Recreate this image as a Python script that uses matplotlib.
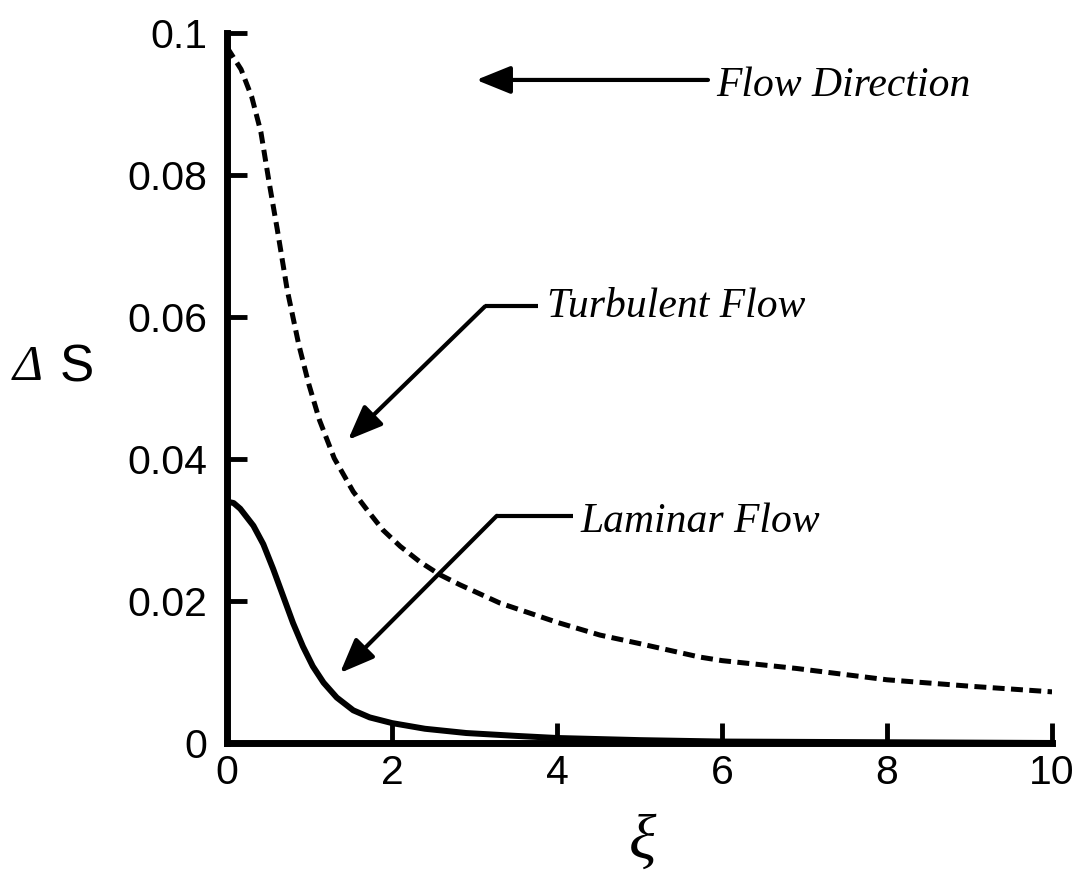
import matplotlib
matplotlib.use("Agg")
import matplotlib.pyplot as plt

# Entropy generation profiles along the duct
xi_turbulent = [0.0, 0.17, 0.30, 0.41, 0.51, 0.61, 0.73, 0.87, 0.99, 1.12, 1.30,
                1.53, 1.70, 1.89, 2.10, 2.34, 2.58, 2.82, 3.31, 4.0, 4.52, 5.0,
                5.73, 6.0, 6.9, 8.0, 9.0, 10.0]
ds_turbulent = [0.0980, 0.0949, 0.0910, 0.0861, 0.0790, 0.0723, 0.0638, 0.0561,
                0.0506, 0.0455, 0.0401, 0.0354, 0.0328, 0.0300, 0.0277, 0.0255,
                0.0237, 0.0223, 0.0197, 0.0170, 0.0152, 0.0140, 0.0121, 0.0116,
                0.0105, 0.0089, 0.0080, 0.0072]

xi_laminar = [0.0, 0.08, 0.16, 0.32, 0.44, 0.56, 0.68, 0.80, 0.92, 1.04, 1.17,
              1.33, 1.53, 1.73, 2.0, 2.4, 2.9, 3.5, 4.0, 5.0, 6.0, 8.0, 10.0]
ds_laminar = [0.0340, 0.0338, 0.0330, 0.0306, 0.0280, 0.0245, 0.0207, 0.0169,
              0.0136, 0.0108, 0.0085, 0.0064, 0.0046, 0.0036, 0.0028, 0.0020,
              0.0014, 0.0010, 0.0007, 0.0004, 0.0002, 0.0001, 0.0]

x_ticks = [0, 2, 4, 6, 8, 10]
x_tick_labels = ["0", "2", "4", "6", "8", "10"]
y_ticks = [0, 0.02, 0.04, 0.06, 0.08, 0.1]
y_tick_labels = ["0", "0.02", "0.04", "0.06", "0.08", "0.1"]

SANS = ["Liberation Sans", "DejaVu Sans"]
SERIF = ["Liberation Serif", "DejaVu Serif"]

fig = plt.figure(figsize=(10.81, 8.71), dpi=100)
ax = fig.add_axes([0.21, 0.147, 0.7632, 0.815])

ax.plot(xi_laminar, ds_laminar, color="black", lw=4.3,
        solid_capstyle="butt", solid_joinstyle="round")
lw_t = 3.6
ax.plot(xi_turbulent, ds_turbulent, color="black", lw=lw_t,
        linestyle=(0, (8.6 / lw_t, 4.6 / lw_t)), dash_capstyle="butt",
        dash_joinstyle="round")

ax.set_xlim(0, 10)
ax.set_ylim(0, 0.1)
for side in ("top", "right"):
    ax.spines[side].set_visible(False)
for side in ("left", "bottom"):
    ax.spines[side].set_linewidth(5)

ax.set_xticks(x_ticks)
ax.set_xticklabels(x_tick_labels, fontfamily=SANS, fontsize=29.5)
ax.set_yticks(y_ticks)
ax.set_yticklabels(y_tick_labels, fontfamily=SANS, fontsize=29.5)
ax.tick_params(axis="both", direction="in", length=14.5, width=3.5)
ax.tick_params(axis="x", pad=8)
ax.tick_params(axis="y", pad=14)

# Axis labels
fig.text(0.0254, 0.5775, "\u0394", fontfamily=SERIF, fontstyle="italic",
         fontsize=37, ha="center", va="center")
fig.text(0.0712, 0.5775, "S", fontfamily=SANS, fontsize=37,
         ha="center", va="center")
fig.text(0.594, 0.031, "\u03be", fontfamily=SERIF, fontstyle="italic",
         fontsize=46, ha="center", va="center")

# Callouts
arrow_kw = dict(arrowstyle="-|>,head_length=21,head_width=8.5",
                mutation_scale=1, color="black", lw=3,
                shrinkA=0, shrinkB=0)
text_kw = dict(fontfamily=SERIF, fontstyle="italic", fontsize=30,
               ha="left", va="baseline")

ax.annotate("", xy=(3.02, 0.0934), xytext=(5.83, 0.0934), arrowprops=arrow_kw)
ax.text(5.93, 0.0911, "Flow Direction", **text_kw)

ax.plot([3.77, 3.127], [0.0615, 0.0615], color="black", lw=3,
        solid_capstyle="butt")
ax.annotate("", xy=(1.467, 0.0427), xytext=(3.127, 0.0615), arrowprops=arrow_kw)
ax.text(3.88, 0.0600, "Turbulent Flow", **text_kw)

ax.plot([4.19, 3.27], [0.0320, 0.0320], color="black", lw=3,
        solid_capstyle="butt")
ax.annotate("", xy=(1.37, 0.00986), xytext=(3.27, 0.0320), arrowprops=arrow_kw)
ax.text(4.28, 0.0297, "Laminar Flow", **text_kw)

fig.savefig("out.png", dpi=100)
